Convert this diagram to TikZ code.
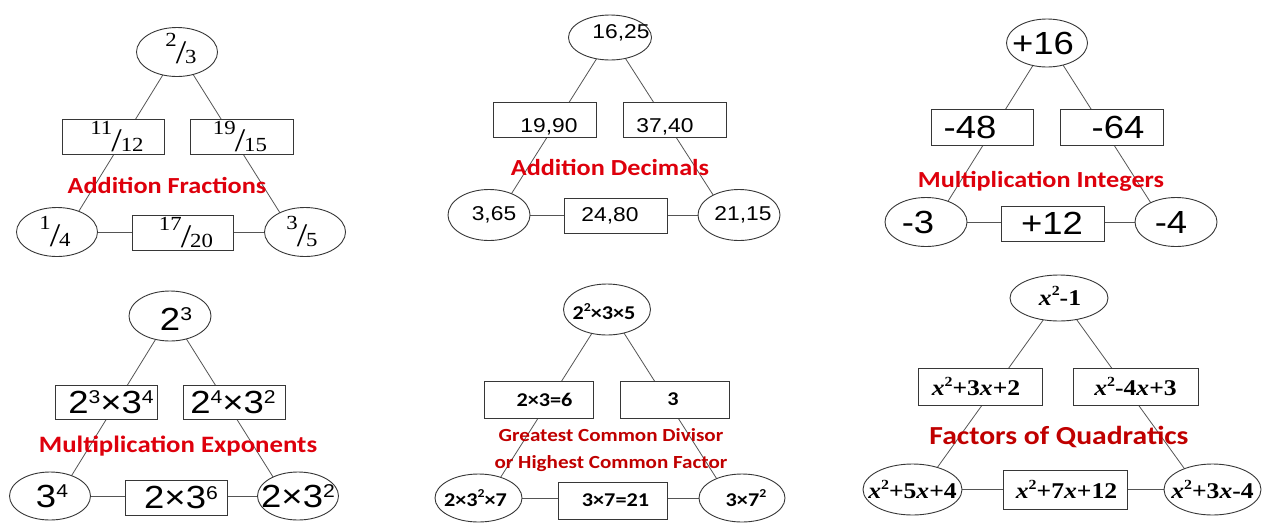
\documentclass[tikz,border=0pt]{standalone}
\usepackage{fontspec}
\usetikzlibrary{shapes.geometric}
\newfontfamily\calfont[FakeStretch=1.14]{Carlito}
\newfontfamily\arifont[FakeStretch=1.14]{Liberation Sans}
\newfontfamily\tmsfont[FakeStretch=1.14]{Liberation Serif}
\definecolor{redA}{RGB}{222,0,12}
\definecolor{redB}{RGB}{192,0,0}
\definecolor{edgec}{RGB}{55,55,55}
\definecolor{connc}{RGB}{85,85,85}
\newcommand\fr[2]{\raisebox{17pt}{\fontsize{20}{20}\selectfont #1}\kern-1pt{\fontsize{33}{33}\selectfont /}\kern-1pt{\fontsize{20}{20}\selectfont #2}}
\newcommand\upa[1]{\raisebox{.30em}{\scalebox{.58}{#1}}}
\newcommand\upc[1]{\raisebox{.42em}{\scalebox{.62}{#1}}}
\newcommand\xx{\textit{x}}
\newcommand\ct[3]{\makebox[0pt]{\hspace*{#1}\raisebox{#2}[\height][\depth]{#3}\hspace*{-#1}}}
\pgfdeclarelayer{paper}
\pgfdeclarelayer{lines}
\pgfsetlayers{paper,lines,main}
\begin{document}
\begin{tikzpicture}[x=1pt,y=-1pt,
  ell/.style={ellipse, draw=edgec, line width=0.9pt, fill=white, inner sep=0pt},
  boxn/.style={rectangle, draw=edgec, line width=0.9pt, fill=white, inner sep=0pt},
  conn/.style={draw=connc, line width=0.8pt},
  ttl/.style={font=\calfont\bfseries\fontsize{#1}{#1}\selectfont, text=redA, inner sep=0pt, anchor=base},
  pA/.style={font=\tmsfont},
  pB/.style={font=\arifont\fontsize{20}{20}\selectfont},
  pC/.style={font=\arifont\fontsize{32}{32}\selectfont},
  pE/.style={font=\calfont\bfseries\fontsize{19.5}{19.5}\selectfont},
  pF/.style={font=\tmsfont\bfseries\fontsize{22.5}{22.5}\selectfont}]
\useasboundingbox (0,0) rectangle (1262,523);
\begin{pgfonlayer}{paper}
\fill[white] (0,0) rectangle (1262,523);
\end{pgfonlayer}

% ---------- Panel 1: Addition Fractions
\node[ell,pA,minimum width=81pt,minimum height=49pt] (t1) at (177,52) {\ct{4pt}{3pt}{\fr{2}{3}}};
\node[boxn,pA,minimum width=102pt,minimum height=35pt] (l1) at (113,137) {\ct{4pt}{0pt}{\fr{11}{12}}};
\node[boxn,pA,minimum width=103pt,minimum height=35pt] (r1) at (242,137) {\ct{-2pt}{0pt}{\fr{19}{15}}};
\node[ell,pA,minimum width=81pt,minimum height=49pt] (bl1) at (57,232) {\ct{-2pt}{0pt}{\fr{1}{4}}};
\node[boxn,pA,minimum width=101pt,minimum height=35pt] (b1) at (183,233) {\ct{3pt}{0pt}{\fr{17}{20}}};
\node[ell,pA,minimum width=81pt,minimum height=49pt] (br1) at (305,232) {\ct{-3pt}{0pt}{\fr{3}{5}}};
\node[ttl=23] (h1) at (167,193) {Addition Fractions};

% ---------- Panel 2: Addition Decimals
\node[ell,pB,minimum width=83pt,minimum height=45pt] (t2) at (610,37.5) {\ct{11pt}{5pt}{16,25}};
\node[boxn,pB,minimum width=103pt,minimum height=35pt] (l2) at (545,119.5) {\ct{4pt}{-7pt}{19,90}};
\node[boxn,pB,minimum width=103pt,minimum height=35pt] (r2) at (675,119.5) {\ct{-10pt}{-7pt}{37,40}};
\node[ell,pB,minimum width=82pt,minimum height=51pt] (bl2) at (489,215) {\ct{5pt}{0pt}{3,65}};
\node[boxn,pB,minimum width=103pt,minimum height=35pt] (b2) at (616,215.5) {\ct{-6pt}{0pt}{24,80}};
\node[ell,pB,minimum width=82pt,minimum height=51pt] (br2) at (739,215) {\ct{4pt}{0pt}{21,15}};
\node[ttl=23] (h2) at (610,175) {Addition Decimals};

% ---------- Panel 3: Multiplication Integers
\node[ell,pC,minimum width=81pt,minimum height=48pt] (t3) at (1047,43) {\ct{-4pt}{0pt}{+16}};
\node[boxn,pC,minimum width=102pt,minimum height=36pt] (l3) at (982,127) {\ct{-12pt}{0pt}{-48}};
\node[boxn,pC,minimum width=103pt,minimum height=36pt] (r3) at (1112,127) {\ct{6pt}{0pt}{-64}};
\node[ell,pC,minimum width=82pt,minimum height=49pt] (bl3) at (926,222) {\ct{-8pt}{0pt}{-3}};
\node[boxn,pC,minimum width=103pt,minimum height=35pt] (b3) at (1053,223.5) {\ct{-1pt}{0pt}{+12}};
\node[ell,pC,minimum width=82pt,minimum height=49pt] (br3) at (1176,222) {\ct{-5pt}{0pt}{-4}};
\node[ttl=23] (h3) at (1041,187) {Multiplication Integers};

% ---------- Panel 4: Multiplication Exponents
\node[ell,pC,minimum width=82pt,minimum height=50pt] (t4) at (170,316) {\ct{6pt}{-3pt}{2\upa{3}}};
\node[boxn,pC,minimum width=102pt,minimum height=34pt] (l4) at (106,402) {\ct{5pt}{0pt}{2\upa{3}×3\upa{4}}};
\node[boxn,pC,minimum width=102pt,minimum height=34pt] (r4) at (234,402) {\ct{-1pt}{0pt}{2\upa{4}×3\upa{2}}};
\node[ell,pC,minimum width=81pt,minimum height=48pt] (bl4) at (50,496) {\ct{2pt}{0pt}{3\upa{4}}};
\node[boxn,pC,minimum width=102pt,minimum height=35pt] (b4) at (176,497.5) {\ct{5pt}{0pt}{2×3\upa{6}}};
\node[ell,pC,minimum width=81pt,minimum height=48pt] (br4) at (298,496) {\ct{0pt}{0pt}{2×3\upa{2}}};
\node[ttl=23.5] (h4) at (178,452.5) {Multiplication Exponents};

% ---------- Panel 5: GCD / HCF
\node[ell,pE,minimum width=87pt,minimum height=51pt] (t5) at (607,309.5) {\ct{-3pt}{-2pt}{2\upc{2}×3×5}};
\node[boxn,pE,minimum width=109pt,minimum height=37pt] (l5) at (538.5,399.5) {\ct{6pt}{0pt}{2×3=6}};
\node[boxn,pE,minimum width=109pt,minimum height=37pt] (r5) at (674.5,399.5) {\ct{-1.5pt}{0pt}{3}};
\node[ell,pE,minimum width=87pt,minimum height=48pt] (bl5) at (478.5,498) {\ct{-3pt}{0pt}{2×3\upc{2}×7}};
\node[boxn,pE,minimum width=109pt,minimum height=37pt] (b5) at (612.5,500.5) {\ct{3pt}{0pt}{3×7=21}};
\node[ell,pE,minimum width=86pt,minimum height=48pt] (br5) at (742,498) {\ct{4pt}{0pt}{3×7\upc{2}}};
\node[font=\calfont\bfseries\fontsize{18.5}{26.5}\selectfont, text=redB, inner sep=0pt, align=center] (h5) at (611,450) {Greatest Common Divisor\\or Highest Common Factor};

% ---------- Panel 6: Factors of Quadratics
\node[ell,pF,minimum width=98pt,minimum height=46pt] (t6) at (1059,298) {\ct{1pt}{2pt}{\xx\upc{2}-1}};
\node[boxn,pF,minimum width=124pt,minimum height=37pt] (l6) at (980,386.5) {\ct{-4pt}{0pt}{\xx\upc{2}+3\xx+2}};
\node[boxn,pF,minimum width=125pt,minimum height=37pt] (r6) at (1135.5,386.5) {\ct{0pt}{0pt}{\xx\upc{2}-4\xx+3}};
\node[ell,pF,minimum width=99pt,minimum height=51pt] (bl6) at (912.5,489.5) {\ct{0pt}{0pt}{\xx\upc{2}+5\xx+4}};
\node[boxn,pF,minimum width=124pt,minimum height=39pt] (b6) at (1065,489.5) {\ct{1.5pt}{0pt}{\xx\upc{2}+7\xx+12}};
\node[ell,pF,minimum width=97pt,minimum height=51pt] (br6) at (1212.5,489.5) {\ct{0pt}{0pt}{\xx\upc{2}+3\xx-4}};
\node[ttl=26,text=redB] (h6) at (1059,444.5) {Factors of Quadratics};

% ---------- connectors (behind the nodes)
\begin{pgfonlayer}{lines}
\foreach \i in {1,...,6}{
  \draw[conn] (t\i.center) -- ([xshift=9pt]bl\i.center);
  \draw[conn] ([xshift=2pt]t\i.center) -- ([xshift=-13pt]br\i.center);
  \draw[conn] (bl\i.center) -- (br\i.center);
}
\end{pgfonlayer}
\end{tikzpicture}
\end{document}
